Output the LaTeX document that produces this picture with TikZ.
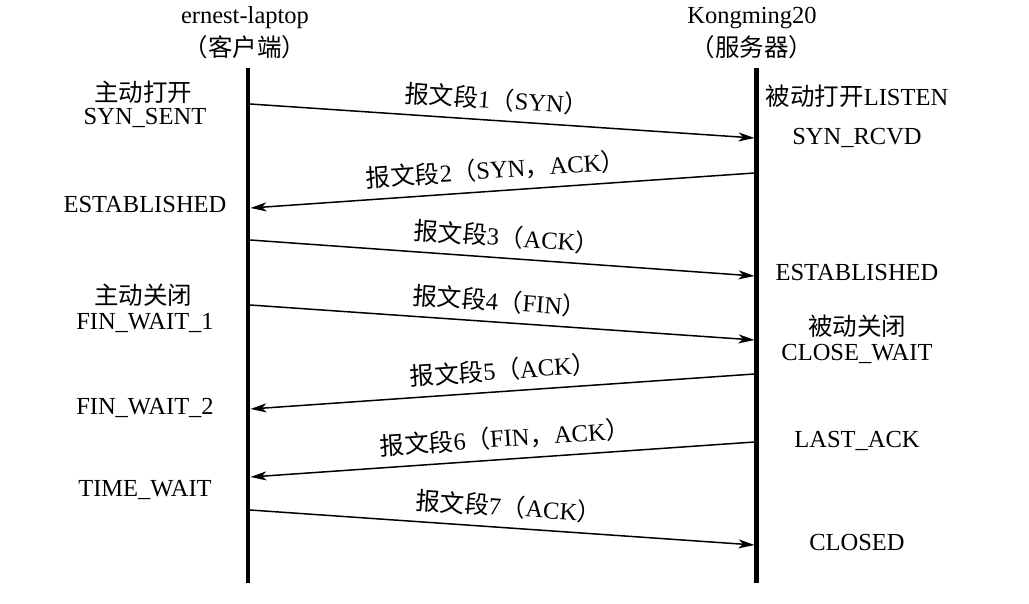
\documentclass[tikz,border=0pt]{standalone}
\usepackage{fontspec}
\setmainfont{Liberation Serif}
\newfontfamily\cjk{Noto Sans CJK SC}
\usetikzlibrary{arrows.meta}
\begin{document}
\begin{tikzpicture}[x=1pt,y=-1pt,
  every node/.style={font=\fontsize{24.5}{28}\selectfont, inner sep=0pt},
  life/.style={line width=4.5pt, line cap=butt},
  msg/.style={line width=1.5pt, -{Stealth[length=16pt,width=9pt,inset=4.5pt]}},
  seglabel/.style={sloped, above=9pt},
  state/.style={anchor=center}]
\useasboundingbox (0,0) rectangle (1029,604);
% headers
\node[state] (hc1) at (245,18) {ernest-laptop};
\node[state] (hc2) at (245,47) {\cjk （客户端）};
\node[state] (hs1) at (752,18) {Kongming20};
\node[state] (hs2) at (752,47) {\cjk （服务器）};
% lifelines
\coordinate (ct) at (248,68);
\coordinate (cb) at (248,583);
\coordinate (st) at (756.5,68);
\coordinate (sb) at (756.5,583);
\draw[life] (ct) -- (cb);
\draw[life] (st) -- (sb);
% endpoints
\coordinate (c1) at (250,104);  \coordinate (s1) at (754.5,138);
\coordinate (s2) at (754.5,173); \coordinate (c2) at (250.5,208);
\coordinate (c3) at (250,240);  \coordinate (s3) at (754.5,276);
\coordinate (c4) at (250,305);  \coordinate (s4) at (754.5,340);
\coordinate (s5) at (754.5,374); \coordinate (c5) at (250.5,409);
\coordinate (s6) at (754.5,442); \coordinate (c6) at (250.5,477);
\coordinate (c7) at (250,510);  \coordinate (s7) at (754.5,545);
% messages
\draw[msg] (c1) -- node[seglabel, pos=0.486] (m1) {{\cjk 报文段}1{\cjk （}SYN{\cjk ）}} (s1);
\draw[msg] (s2) -- node[seglabel, pos=0.51] (m2) {{\cjk 报文段}2{\cjk （}SYN{\cjk ，}ACK{\cjk ）}} (c2);
\draw[msg] (c3) -- node[seglabel, pos=0.506] (m3) {{\cjk 报文段}3{\cjk （}ACK{\cjk ）}} (s3);
\draw[msg] (c4) -- node[seglabel, pos=0.492] (m4) {{\cjk 报文段}4{\cjk （}FIN{\cjk ）}} (s4);
\draw[msg] (s5) -- node[seglabel, pos=0.496] (m5) {{\cjk 报文段}5{\cjk （}ACK{\cjk ）}} (c5);
\draw[msg] (s6) -- node[seglabel, pos=0.492] (m6) {{\cjk 报文段}6{\cjk （}FIN{\cjk ，}ACK{\cjk ）}} (c6);
\draw[msg] (c7) -- node[seglabel, pos=0.51] (m7) {{\cjk 报文段}7{\cjk （}ACK{\cjk ）}} (s7);
% client states
\node[state] (l1a) at (143,92) {\cjk 主动打开};
\node[state] (l1b) at (145,118) {SYN\_SENT};
\node[state] (l2) at (145,205) {ESTABLISHED};
\node[state] (l3a) at (143,295) {\cjk 主动关闭};
\node[state] (l3b) at (145,323) {FIN\_WAIT\_1};
\node[state] (l4) at (145,408) {FIN\_WAIT\_2};
\node[state] (l5) at (145,490) {TIME\_WAIT};
% server states
\node[state] (r1) at (857,96) {{\cjk 被动打开}LISTEN};
\node[state] (r2) at (857,138) {SYN\_RCVD};
\node[state] (r3) at (857,273) {ESTABLISHED};
\node[state] (r4a) at (857,326) {\cjk 被动关闭};
\node[state] (r4b) at (857,354) {CLOSE\_WAIT};
\node[state] (r5) at (857,441) {LAST\_ACK};
\node[state] (r6) at (857,543) {CLOSED};
\end{tikzpicture}
\end{document}
